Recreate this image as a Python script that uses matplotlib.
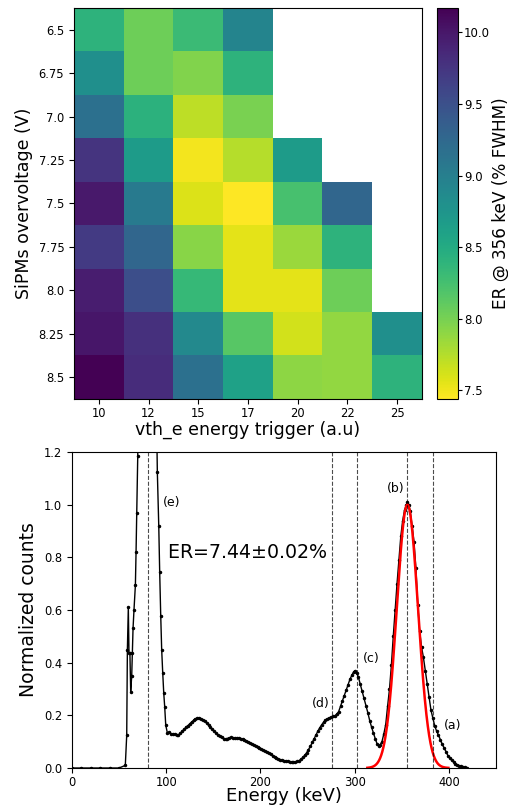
import numpy as np
import matplotlib
matplotlib.use("Agg")
import matplotlib.pyplot as plt

# heatmap: ER @ 356 keV (% FWHM) vs overvoltage and energy trigger
vth_e = ["10", "12", "15", "17", "20", "22", "25"]
overvoltage = ["6.5", "6.75", "7.0", "7.25", "7.5", "7.75", "8.0", "8.25", "8.5"]
nan = np.nan
er_6_50 = [8.40, 8.04, 8.31, 8.94, nan, nan, nan]
er_6_75 = [8.81, 8.04, 7.96, 8.40, nan, nan, nan]
er_7_00 = [9.16, 8.42, 7.71, 7.99, nan, nan, nan]
er_7_25 = [9.76, 8.67, 7.49, 7.74, 8.67, nan, nan]
er_7_50 = [9.98, 9.05, 7.58, 7.44, 8.23, 9.27, nan]
er_7_75 = [9.71, 9.27, 7.93, 7.55, 7.85, 8.40, nan]
er_8_00 = [9.95, 9.51, 8.34, 7.55, 7.55, 8.04, nan]
er_8_25 = [10.01, 9.79, 8.89, 8.15, 7.63, 7.88, 8.81]
er_8_50 = [10.17, 9.82, 9.16, 8.61, 7.90, 7.88, 8.40]

# spectrum (normalized counts) for best configuration
energy = [0, 10, 20, 30, 40, 50, 56.6, 58.1, 58.8, 59.8, 60.5, 61.5, 62.3, 63.4,
          64.1, 64.8, 65.8, 67.3, 68.0, 68.7, 69.8, 71, 73, 75, 77, 79, 81, 83,
          85, 87, 89.5, 90.6, 92.1, 93.1, 94.2, 95.2, 96.3, 97.4, 98.4, 99.5,
          101.2, 103, 105, 107, 109, 111, 113, 115, 117, 119, 121, 123, 125, 127,
          129, 131, 133, 135, 137, 139, 141, 143, 145, 147, 149, 151, 153, 155,
          157, 159, 161, 163, 165, 167, 169, 171, 173, 175, 177, 179, 181, 183,
          185, 187, 189, 191, 193, 195, 197, 199, 201, 203, 205, 207, 209, 211,
          213, 215, 217, 219, 221, 223, 225, 227, 229, 231, 233, 235, 237, 239,
          241, 243, 245, 247, 249, 251, 253, 255, 257, 259, 261, 263, 265, 267,
          269, 271, 273, 275, 277, 279, 281, 283, 285, 287, 289, 291, 293, 295,
          297, 299, 300.6, 302, 304, 306, 308, 310, 312, 314, 316, 318, 320, 322,
          324, 325.5, 327, 329, 331, 333, 335, 337, 339, 341, 343, 345, 347, 349,
          351, 353, 355, 356, 357.5, 359, 361, 363, 365, 367, 369, 371, 373, 375,
          377, 379, 381, 383, 385, 387, 389, 391, 393, 395, 397, 399, 401, 403,
          405, 407, 409, 411, 413, 415, 417, 419]
counts = [0, 0, 0, 0, 0, 0, 0.01, 0.125, 0.45, 0.61, 0.435, 0.435, 0.29, 0.35,
          0.435, 0.53, 0.60, 0.695, 0.82, 0.97, 1.185, 1.7, 2.4, 3.0, 3.4, 3.6, 3.5, 3.1,
          2.5, 1.9, 1.4, 1.123, 0.92, 0.743, 0.577, 0.45, 0.362, 0.284, 0.233, 0.163,
          0.134, 0.136, 0.130, 0.128, 0.129, 0.127, 0.125, 0.132, 0.140, 0.147, 0.155, 0.161, 0.168, 0.175,
          0.181, 0.186, 0.190, 0.191, 0.187, 0.183, 0.179, 0.170, 0.162, 0.154, 0.147, 0.140, 0.133, 0.126,
          0.121, 0.116, 0.112, 0.110, 0.112, 0.115, 0.116, 0.114, 0.113, 0.114, 0.113, 0.111, 0.109, 0.107,
          0.103, 0.100, 0.095, 0.091, 0.087, 0.083, 0.079, 0.075, 0.071, 0.068, 0.065, 0.060, 0.057, 0.052,
          0.046, 0.041, 0.037, 0.034, 0.032, 0.030, 0.028, 0.027, 0.026, 0.024, 0.022, 0.022, 0.023, 0.025,
          0.028, 0.033, 0.040, 0.048, 0.058, 0.070, 0.082, 0.097, 0.111, 0.126, 0.140, 0.153, 0.164, 0.174,
          0.182, 0.187, 0.190, 0.193, 0.196, 0.198, 0.205, 0.214, 0.235, 0.255, 0.275, 0.296, 0.316, 0.337,
          0.352, 0.366, 0.370, 0.362, 0.345, 0.318, 0.292, 0.265, 0.237, 0.210, 0.180, 0.155, 0.132, 0.110,
          0.090, 0.084, 0.088, 0.100, 0.130, 0.165, 0.235, 0.300, 0.390, 0.500, 0.600, 0.700, 0.790, 0.880,
          0.940, 0.980, 1.000, 1.010, 1.000, 0.975, 0.920, 0.860, 0.760, 0.620, 0.520, 0.460, 0.420, 0.370,
          0.320, 0.270, 0.220, 0.190, 0.160, 0.140, 0.125, 0.107, 0.090, 0.076, 0.062, 0.047, 0.038, 0.030,
          0.022, 0.017, 0.012, 0.009, 0.006, 0.004, 0.002, 0.001]

# gaussian fit of the photopeak
fit_mu, fit_sigma, fit_amp = 356.0, 11.3, 1.0
fit_range = (313.5, 399.5)
peak_lines = [81, 276, 303, 356, 383]
peak_tags = [("(e)", 106, 1.01), ("(b)", 344, 1.062), ("(c)", 318, 0.417),
             ("(d)", 264, 0.246), ("(a)", 404, 0.163)]

er = np.array([er_6_50, er_6_75, er_7_00, er_7_25, er_7_50,
               er_7_75, er_8_00, er_8_25, er_8_50])

fig = plt.figure(figsize=(5.08, 8.08), dpi=100)
ax1 = fig.add_axes([0.1457, 0.5062, 0.685, 0.4839])
cax = fig.add_axes([0.860, 0.5062, 0.0413, 0.4839])
ax2 = fig.add_axes([0.1417, 0.0495, 0.8346, 0.391])

im = ax1.imshow(er, cmap="viridis_r", aspect="auto")
ax1.set_xticks(range(len(vth_e)))
ax1.set_xticklabels(vth_e)
ax1.set_yticks(range(len(overvoltage)))
ax1.set_yticklabels(overvoltage)
ax1.tick_params(labelsize=8.3)
ax1.tick_params(axis="x", pad=2.5)
ax1.set_xlabel("vth_e energy trigger (a.u)", fontsize=12.5, labelpad=0)
ax1.set_ylabel("SiPMs overvoltage (V)", fontsize=12.5)
cb = fig.colorbar(im, cax=cax)
cb.set_ticks([7.5, 8.0, 8.5, 9.0, 9.5, 10.0])
cb.ax.tick_params(labelsize=8.5, length=3, pad=1.5)
cb.set_label("ER @ 356 keV (% FWHM)", fontsize=12.2, labelpad=1)

ax2.plot(energy, counts, "k.-", lw=1, ms=3)
xf = np.linspace(fit_range[0], fit_range[1], 300)
ax2.plot(xf, fit_amp * np.exp(-(xf - fit_mu) ** 2 / (2 * fit_sigma ** 2)), "r-", lw=1.8)
for e in peak_lines:
    ax2.axvline(e, color="k", ls="--", lw=0.8, alpha=0.7)
for tag, x, y in peak_tags:
    ax2.text(x, y, tag, fontsize=9, ha="center", va="center")
ax2.text(101, 0.82, "ER=7.44$\\pm$0.02%", fontsize=13.7, va="center")
ax2.set_xlim(0, 450)
ax2.set_ylim(0, 1.2)
ax2.set_xticks([0, 100, 200, 300, 400])
ax2.set_yticks([0.0, 0.2, 0.4, 0.6, 0.8, 1.0, 1.2])
ax2.tick_params(labelsize=8.3)
ax2.tick_params(axis="x", pad=2)
ax2.set_xlabel("Energy (keV)", fontsize=13, labelpad=-1)
ax2.set_ylabel("Normalized counts", fontsize=13.5)

fig.savefig("out.png", dpi=100)
